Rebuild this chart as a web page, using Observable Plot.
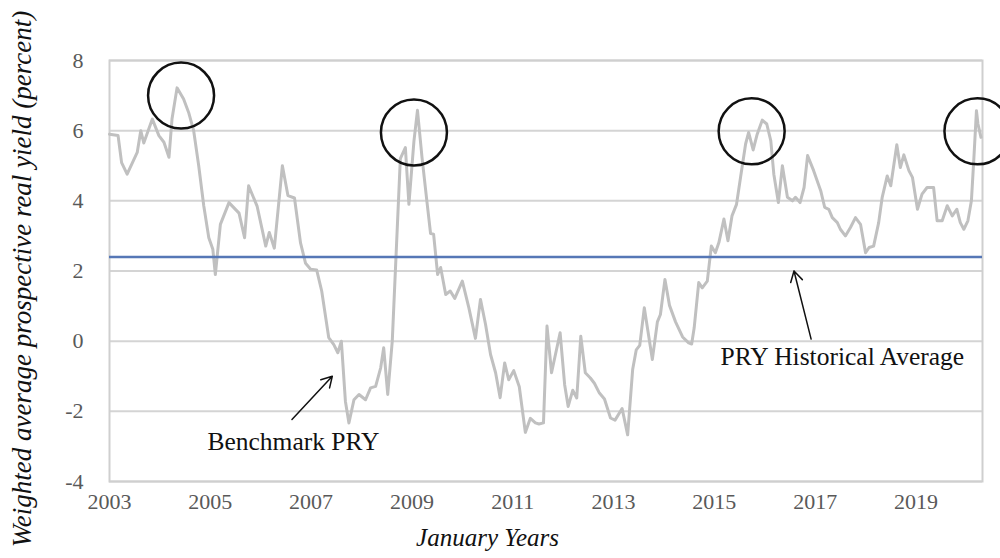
<!DOCTYPE html>
<html>
<head>
<meta charset="utf-8">
<script src="https://cdn.jsdelivr.net/npm/d3@7"></script>
<script src="https://cdn.jsdelivr.net/npm/@observablehq/plot@0.6"></script>
<style>
  html, body { margin: 0; padding: 0; background: #fff; }
</style>
</head>
<body>
<div id="chart"></div>
<script>
// Time (decimal year, January-based) and benchmark PRY values (percent)
const years = [
  2003.00, 2003.17, 2003.24, 2003.35, 2003.55, 2003.62, 2003.68, 2003.85, 2003.98, 2004.08,
  2004.18, 2004.24, 2004.34, 2004.47, 2004.57, 2004.67, 2004.77, 2004.87, 2004.97, 2005.05,
  2005.10, 2005.20, 2005.37, 2005.57, 2005.68, 2005.76, 2005.93, 2006.10, 2006.17, 2006.27,
  2006.43, 2006.54, 2006.67, 2006.79, 2006.89, 2006.99, 2007.11, 2007.21, 2007.35, 2007.45,
  2007.53, 2007.60, 2007.68, 2007.75, 2007.85, 2007.95, 2008.08, 2008.18, 2008.28, 2008.38,
  2008.44, 2008.52, 2008.61, 2008.77, 2008.87, 2008.94, 2009.04, 2009.11, 2009.20, 2009.30,
  2009.37, 2009.43, 2009.51, 2009.57, 2009.67, 2009.76, 2009.85, 2010.00, 2010.13, 2010.26,
  2010.36, 2010.46, 2010.56, 2010.66, 2010.75, 2010.84, 2010.92, 2011.02, 2011.13, 2011.25,
  2011.35, 2011.45, 2011.52, 2011.61, 2011.68, 2011.77, 2011.94, 2012.03, 2012.10, 2012.19,
  2012.27, 2012.35, 2012.44, 2012.54, 2012.62, 2012.72, 2012.82, 2012.94, 2013.03, 2013.17,
  2013.28, 2013.38, 2013.45, 2013.52, 2013.61, 2013.77, 2013.87, 2013.93, 2014.02, 2014.11,
  2014.23, 2014.37, 2014.49, 2014.55, 2014.60, 2014.69, 2014.76, 2014.86, 2014.94, 2015.02,
  2015.09, 2015.19, 2015.27, 2015.35, 2015.44, 2015.52, 2015.62, 2015.68, 2015.77, 2015.85,
  2015.95, 2016.04, 2016.12, 2016.18, 2016.27, 2016.35, 2016.45, 2016.55, 2016.61, 2016.70,
  2016.78, 2016.85, 2016.97, 2017.11, 2017.19, 2017.27, 2017.34, 2017.44, 2017.50, 2017.60,
  2017.70, 2017.80, 2017.90, 2018.00, 2018.07, 2018.16, 2018.26, 2018.33, 2018.43, 2018.50,
  2018.62, 2018.69, 2018.76, 2018.86, 2018.93, 2019.03, 2019.12, 2019.22, 2019.35, 2019.42,
  2019.52, 2019.62, 2019.72, 2019.81, 2019.88, 2019.95, 2020.03, 2020.10, 2020.15, 2020.20,
  2020.23, 2020.29
];
const pry = [
  5.90, 5.86, 5.09, 4.76, 5.38, 6.00, 5.65, 6.33, 5.86, 5.67,
  5.24, 6.33, 7.22, 6.90, 6.52, 6.00, 5.00, 3.86, 2.95, 2.62,
  1.90, 3.33, 3.95, 3.65, 2.95, 4.43, 3.84, 2.71, 3.10, 2.65,
  5.00, 4.15, 4.08, 2.80, 2.22, 2.05, 2.03, 1.43, 0.10, -0.10,
  -0.33, 0.00, -1.71, -2.33, -1.67, -1.52, -1.67, -1.33, -1.29, -0.76,
  -0.19, -1.52, 0.00, 5.20, 5.52, 3.90, 5.70, 6.58, 5.24, 3.95,
  3.07, 3.05, 1.90, 2.10, 1.33, 1.43, 1.22, 1.71, 0.95, 0.08,
  1.19, 0.48, -0.38, -0.90, -1.61, -0.62, -1.10, -0.84, -1.30, -2.60,
  -2.20, -2.33, -2.36, -2.33, 0.43, -0.90, 0.24, -1.24, -1.86, -1.40,
  -1.62, 0.14, -0.90, -1.05, -1.20, -1.48, -1.65, -2.19, -2.25, -1.92,
  -2.67, -0.80, -0.25, -0.12, 0.95, -0.52, 0.55, 0.76, 1.76, 1.02,
  0.55, 0.12, -0.05, -0.08, 0.38, 1.67, 1.52, 1.71, 2.71, 2.52,
  2.81, 3.48, 2.86, 3.57, 3.90, 4.67, 5.62, 5.95, 5.45, 5.90,
  6.30, 6.19, 5.71, 4.76, 3.95, 5.00, 4.10, 4.00, 4.10, 3.95,
  4.38, 5.29, 4.86, 4.29, 3.81, 3.76, 3.52, 3.38, 3.19, 3.00,
  3.24, 3.52, 3.33, 2.52, 2.67, 2.71, 3.38, 4.10, 4.71, 4.43,
  5.60, 4.95, 5.31, 4.86, 4.67, 3.76, 4.19, 4.38, 4.38, 3.43,
  3.43, 3.86, 3.57, 3.76, 3.38, 3.19, 3.43, 4.00, 5.24, 6.57,
  6.19, 5.81
];
const historicalAverage = 2.4;
const yTicks = [-4, -2, 0, 2, 4, 6, 8];
const xTicks = [2003, 2005, 2007, 2009, 2011, 2013, 2015, 2017, 2019];

// Circled peaks
const peakYears = [2004.42, 2009.04, 2015.74, 2020.22];
const peakValues = [7.0, 5.95, 5.98, 5.98];

// Annotations
const labelTexts = ["Benchmark PRY", "PRY Historical Average"];
const labelYears = [2006.65, 2017.54];
const labelValues = [-2.86, -0.46];
const arrowFromYears = [2006.62, 2016.92];
const arrowFromValues = [-2.23, 0.06];
const arrowToYears = [2007.42, 2016.58];
const arrowToValues = [-1.0, 2.0];

const series = years.map((t, i) => ({t, v: pry[i]}));
const peaks = peakYears.map((t, i) => ({t, v: peakValues[i]}));
const labels = labelTexts.map((s, i) => ({s, t: labelYears[i], v: labelValues[i]}));
const arrows = arrowFromYears.map((t, i) => ({x1: t, y1: arrowFromValues[i], x2: arrowToYears[i], y2: arrowToValues[i]}));

const chart = Plot.plot({
  width: 1000,
  height: 558,
  marginLeft: 109,
  marginRight: 18,
  marginTop: 60,
  marginBottom: 77,
  style: {fontFamily: "'Liberation Serif', 'Times New Roman', serif", background: "#fff"},
  x: {domain: [2003, 2020.32]},
  y: {domain: [-4, 8]},
  marks: [
    Plot.gridY(yTicks, {stroke: "#d4d4d4", strokeOpacity: 1, strokeWidth: 2}),
    Plot.frame({stroke: "#cfcfcf", strokeWidth: 2}),
    Plot.axisY({ticks: yTicks, tickSize: 0, tickPadding: 26, tickFormat: d => String(d),
      fontSize: 22, color: "#595959", label: null}),
    Plot.axisX({ticks: xTicks, tickSize: 0, tickPadding: 12, tickFormat: d => String(d),
      fontSize: 22, color: "#595959", label: null}),
    Plot.line(series, {x: "t", y: "v", stroke: "#c0c0c0", strokeWidth: 3}),
    Plot.ruleY([historicalAverage], {stroke: "#5677b6", strokeWidth: 2.5}),
    Plot.dot(peaks, {x: "t", y: "v", r: 33, stroke: "#111", strokeWidth: 2.5, fill: "none"}),
    Plot.arrow(arrows, {x1: "x1", y1: "y1", x2: "x2", y2: "y2", stroke: "#111", strokeWidth: 1.5, headLength: 12}),
    Plot.text(labels, {x: "t", y: "v", text: "s", fontSize: 25.5, fill: "#111"}),
    Plot.text(["Weighted average prospective real yield (percent)"], {
      frameAnchor: "left", textAnchor: "middle", dx: -87, dy: 8, rotate: -90,
      fontSize: 27, fontStyle: "italic", fill: "#111"}),
    Plot.text([{t: 2010.5, s: "January Years"}], {
      x: "t", text: "s", frameAnchor: "bottom", dy: 64, fontSize: 25, fontStyle: "italic", fill: "#111"})
  ]
});
document.getElementById("chart").appendChild(chart);
</script>
</body>
</html>
